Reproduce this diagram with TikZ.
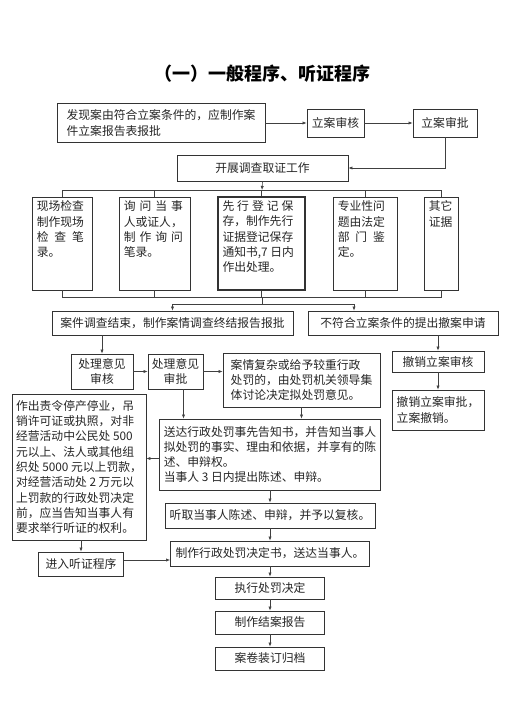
\documentclass[tikz,border=0pt]{standalone}
\usepackage{fontspec}
\setmainfont{Noto Sans CJK SC}
\usetikzlibrary{arrows.meta}

\tikzset{
  box/.style={draw=black!80, line width=0.8pt, inner sep=3pt, text=black!85, align=center, font=\fontsize{11.8}{15.3}\selectfont},
  lbox/.style={box, align=left},
  ebox/.style={draw=black!80, line width=0.8pt, minimum height=93},
  etext/.style={anchor=north west, inner xsep=5pt, inner ysep=4pt, align=left, text=black!85, font=\fontsize{11.8}{15.3}\selectfont},
  link/.style={draw=black!75, line width=0.6pt},
  arr/.style={link, -{Latex[length=4pt,width=3.2pt]}},
}

\begin{document}
\begin{tikzpicture}[x=1pt,y=-1pt]
\path[use as bounding box, fill=white] (0,0) rectangle (524,720);
\node[font=\fontsize{18}{22}\selectfont\bfseries] (title) at (262,74) {（一）一般程序、听证程序};
% filing
\node[lbox, minimum width=208, minimum height=39] (faxian) at (161,123) {发现案由符合立案条件的，应制作案\\件立案报告表报批};
\node[box, minimum width=57, minimum height=28] (lashenhe) at (335.5,123) {立案审核};
\node[box, minimum width=64, minimum height=28] (lashenpi) at (445,123) {立案审批};
\node[box, minimum width=171, minimum height=26] (diaocha) at (262.5,168) {开展调查取证工作};
\draw[arr] (faxian.east) -- (lashenhe.west);
\draw[arr] (lashenhe.east) -- (lashenpi.west);
\draw[arr] (lashenpi.south) |- (diaocha.east);
% evidence
\node[ebox, minimum width=60] (xianchang) at (62,243.5) {};
\node[etext] (xianchangT) at (xianchang.north west) {现场检查\\制作现场\\检\hspace{.5em}查\hspace{.5em}笔\\录。};
\node[ebox, minimum width=71] (xunwen) at (154.5,243.5) {};
\node[etext] (xunwenT) at (xunwen.north west) {询\hspace{.34em}问\hspace{.34em}当\hspace{.34em}事\\人或证人，\\制\hspace{.34em}作\hspace{.34em}询\hspace{.34em}问\\笔录。};
\node[ebox, minimum width=87, line width=1.4pt] (baocun) at (261.5,243.5) {};
\node[etext] (baocunT) at (baocun.north west) {先\hspace{.25em}行\hspace{.25em}登\hspace{.25em}记\hspace{.25em}保\\存，制作先行\\证据登记保存\\通知书,7 日内\\作出处理。};
\node[ebox, minimum width=64] (jianding) at (365,243.5) {};
\node[etext] (jiandingT) at (jianding.north west) {专业性问\\题由法定\\部\hspace{.5em}门\hspace{.5em}鉴\\定。};
\node[ebox, minimum width=34] (qita) at (441,243.5) {};
\node[etext] (qitaT) at (qita.north west) {其它\\证据};
\coordinate (bartop) at (262,190);
\coordinate (barbot) at (262,297);
\coordinate (fork) at (262,304);
\coordinate (forkr) at (354,304);
\draw[arr] (diaocha.south) -- (bartop);
\draw[link] (xianchang.north |- bartop) -- (qita.north |- bartop);
\draw[link] (xianchang.north |- bartop) -- (xianchang.north);
\draw[link] (xunwen.north |- bartop) -- (xunwen.north);
\draw[link] (baocun.north |- bartop) -- (baocun.north);
\draw[link] (jianding.north |- bartop) -- (jianding.north);
\draw[link] (qita.north |- bartop) -- (qita.north);
\draw[link] (xianchang.south) -- (xianchang.south |- barbot) -- (qita.south |- barbot) -- (qita.south);
\draw[link] (xunwen.south) -- (xunwen.south |- barbot);
\draw[link] (baocun.south) -- (baocun.south |- barbot);
\draw[link] (jianding.south) -- (jianding.south |- barbot);
\draw[link] (barbot) -- (fork);
% end of investigation
\node[box, minimum width=241, minimum height=24] (jieshu) at (172.5,323) {案件调查结束，制作案情调查终结报告报批};
\node[box, minimum width=190, minimum height=24] (buhe) at (403,323) {不符合立案条件的提出撤案申请};
\draw[arr] (fork) -| (jieshu.north);
\draw[arr] (fork) -- (forkr) -- (forkr |- buhe.north);
\node[box, minimum width=62, minimum height=35, inner ysep=2pt] (yjshenhe) at (102,371.5) {处理意见\\审核};
\node[box, minimum width=55, minimum height=35, inner ysep=2pt] (yjshenpi) at (175.5,371.5) {处理意见\\审批};
\node[lbox, minimum width=157, minimum height=54] (jiti) at (301.5,380) {案情复杂或给予较重行政\\处罚的，由处罚机关领导集\\体讨论决定拟处罚意见。};
\draw[arr] (yjshenhe.north |- jieshu.south) -- (yjshenhe.north);
\draw[arr] (yjshenhe.east) -- (yjshenpi.west);
\draw[arr] (yjshenpi.east) -- (yjshenpi.east -| jiti.west);
% withdrawal
\node[box, minimum width=92, minimum height=21] (cxshenhe) at (438,361.5) {撤销立案审核};
\node[lbox, minimum width=92, minimum height=40] (cxshenpi) at (438,410) {撤销立案审批，\\立案撤销。};
\draw[arr] (cxshenhe.north |- buhe.south) -- (cxshenhe.north);
\draw[arr] (cxshenhe.south) -- (cxshenpi.north);
% notice and hearing
\node[lbox, minimum width=221, minimum height=71] (gaozhi) at (270,454.5) {送达行政处罚事先告知书，并告知当事人\\拟处罚的事实、理由和依据，并享有的陈\\述、申辩权。\\当事人 3 日内提出陈述、申辩。};
\node[lbox, minimum width=134, minimum height=146] (tzquan) at (79,467) {作出责令停产停业，吊\\销许可证或执照，对非\\经营活动中公民处 500\\元以上、法人或其他组\\织处 5000 元以上罚款，\\对经营活动处 2 万元以\\上罚款的行政处罚决定\\前，应当告知当事人有\\要求举行听证的权利。};
\draw[arr] ([xshift=8]yjshenpi.south) -- ([xshift=8]yjshenpi.south |- gaozhi.north);
\draw[arr] (jiti.south) -- (jiti.south |- gaozhi.north);
\draw[arr] ([yshift=-4]gaozhi.west) -- ([yshift=-4]gaozhi.west -| tzquan.east);
\node[box, minimum width=210, minimum height=25] (shenbian) at (270,515.5) {听取当事人陈述、申辩，并予以复核。};
\node[box, minimum width=199, minimum height=25] (jueding) at (270,553.5) {制作行政处罚决定书，送达当事人。};
\node[box, minimum width=85, minimum height=24] (jinru) at (81,564) {进入听证程序};
\draw[arr] (jinru.north |- tzquan.south) -- (jinru.north);
\draw[arr] ([yshift=4]jinru.east) -- ([yshift=4]jinru.east -| jueding.west);
% closing
\node[box, minimum width=109, minimum height=22] (zhixing) at (270,588) {执行处罚决定};
\node[box, minimum width=109, minimum height=23] (jiean) at (270,622.5) {制作结案报告};
\node[box, minimum width=109, minimum height=23] (guidang) at (270,658.5) {案卷装订归档};
\draw[arr] (gaozhi.south) -- (shenbian.north);
\draw[arr] (shenbian.south) -- (jueding.north);
\draw[arr] (jueding.south) -- (zhixing.north);
\draw[arr] (zhixing.south) -- (jiean.north);
\draw[arr] (jiean.south) -- (guidang.north);
\end{tikzpicture}
\end{document}
